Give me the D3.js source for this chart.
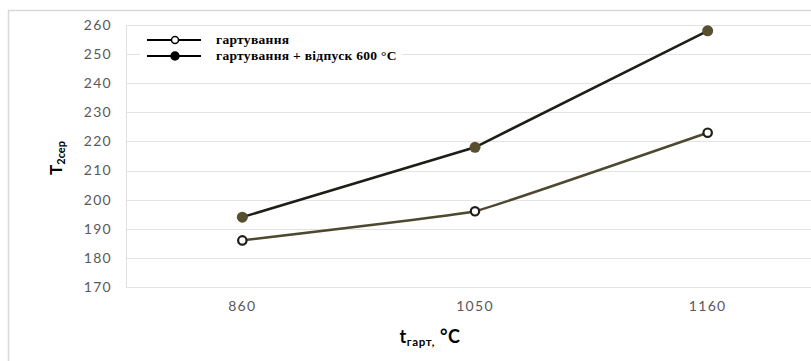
<!DOCTYPE html>
<html>
<head>
<meta charset="utf-8"/>
<title>T2сер</title>
<style type="text/css">
    body, html {width: 100%;height: 100%;overflow: hidden;margin:0;background:#fff;}
</style>
<script src="https://cdn.jsdelivr.net/npm/d3@7/dist/d3.min.js"></script>
</head>
<body>
<svg id="chart" width="811" height="361"></svg>
<script>
// дані
var categories = ["860", "1050", "1160"];
var yTicks = [170, 180, 190, 200, 210, 220, 230, 240, 250, 260];
var hardening = [186, 196, 223];          // гартування
var hardeningTemper = [194, 218, 258];    // гартування + відпуск 600 °C
var seriesNames = ["гартування", "гартування + відпуск 600 °C"];

var svg = d3.select("#chart");
var W = 811, H = 361;

// рамка області діаграми
svg.append("rect").attr("x", 8.5).attr("y", 10.5).attr("width", 900).attr("height", 400)
    .attr("fill", "none").attr("stroke", "#d9d9d9").attr("stroke-width", 1.5);

var x = d3.scaleBand().domain(categories).range([126, 824]);
var y = d3.scaleLinear().domain([170, 260]).range([287, 25]);
var cx = function (d, i) { return x(categories[i]) + x.bandwidth() / 2; };

// сітка
svg.append("g").selectAll("line").data(yTicks).enter().append("line")
    .attr("x1", 126).attr("x2", W).attr("y1", function (d) { return Math.round(y(d)) + 0.5; })
    .attr("y2", function (d) { return Math.round(y(d)) + 0.5; })
    .attr("stroke", "#e3e3e3").attr("stroke-width", 1.2);

// вісь Y
svg.append("line").attr("x1", 126.5).attr("x2", 126.5).attr("y1", 25).attr("y2", 288)
    .attr("stroke", "#e3e3e3").attr("stroke-width", 1.2);
svg.append("g").selectAll("text").data(yTicks).enter().append("text")
    .attr("x", 112).attr("y", function (d) { return y(d); }).attr("dy", "0.35em")
    .attr("text-anchor", "end").attr("font-family", "Lato, 'Liberation Sans', sans-serif")
    .attr("font-size", 14).attr("letter-spacing", 1.3).attr("fill", "#595959").text(function (d) { return d; });

// вісь X
svg.append("g").selectAll("text").data(categories).enter().append("text")
    .attr("x", function (d) { return x(d) + x.bandwidth() / 2; }).attr("y", 306).attr("dy", "0.35em")
    .attr("text-anchor", "middle").attr("font-family", "Lato, 'Liberation Sans', sans-serif")
    .attr("font-size", 14).attr("letter-spacing", 1.3).attr("fill", "#595959").text(function (d) { return d; });

// назви осей
var xt = svg.append("text").attr("x", 430).attr("y", 343).attr("text-anchor", "middle")
    .attr("font-family", "Lato, 'Liberation Sans', sans-serif").attr("font-weight", "bold")
    .attr("fill", "#000").attr("font-size", 18).attr("letter-spacing", 0.6);
xt.append("tspan").text("t");
xt.append("tspan").attr("font-size", 11.5).attr("dy", 3).text("гарт,");
xt.append("tspan").attr("dy", -3).text(" °C");

var yt = svg.append("text").attr("transform", "translate(62,158) rotate(-90)").attr("text-anchor", "middle")
    .attr("font-family", "Lato, 'Liberation Sans', sans-serif").attr("font-weight", "bold")
    .attr("fill", "#000").attr("font-size", 17);
yt.append("tspan").text("T");
yt.append("tspan").attr("font-size", 11).attr("dy", 3).text("2сер");

// лінії
var lineStraight = d3.line().x(cx).y(function (d) { return y(d); });
var lineSmooth = d3.line().x(cx).y(function (d) { return y(d); }).curve(d3.curveCardinal.tension(0.8));

svg.append("path").datum(hardening).attr("d", lineSmooth)
    .attr("fill", "none").attr("stroke", "#4d4830").attr("stroke-width", 2.5);
svg.append("path").datum(hardeningTemper).attr("d", lineStraight)
    .attr("fill", "none").attr("stroke", "#1e1d16").attr("stroke-width", 2.5);

svg.append("g").selectAll("circle").data(hardening).enter().append("circle")
    .attr("cx", cx).attr("cy", function (d) { return y(d); }).attr("r", 4.2)
    .attr("fill", "#fff").attr("stroke", "#1e1d16").attr("stroke-width", 2.2);
svg.append("g").selectAll("circle").data(hardeningTemper).enter().append("circle")
    .attr("cx", cx).attr("cy", function (d) { return y(d); }).attr("r", 5.5)
    .attr("fill", "#574f30");

// легенда
svg.append("rect").attr("x", 140).attr("y", 29).attr("width", 262).attr("height", 40).attr("fill", "#fff");
var leg = svg.append("g").selectAll("g").data(seriesNames).enter().append("g")
    .attr("transform", function (d, i) { return "translate(0," + (40 + i * 16) + ")"; });
leg.append("line").attr("x1", 147).attr("x2", 201).attr("y1", 0).attr("y2", 0)
    .attr("stroke", "#000").attr("stroke-width", 2);
leg.append("circle").attr("cx", 175).attr("cy", 0).attr("r", function (d, i) { return i ? 4 : 3.5; })
    .attr("fill", function (d, i) { return i ? "#000" : "#fff"; })
    .attr("stroke", "#000").attr("stroke-width", 1.5);
leg.append("text").attr("x", 216).attr("y", 0).attr("dy", "0.3em")
    .attr("font-family", "'Liberation Serif', 'Times New Roman', serif").attr("font-weight", "bold")
    .attr("font-size", 13.5).attr("letter-spacing", 0.3).attr("fill", "#000").text(function (d) { return d; });
</script>
</body>
</html>
